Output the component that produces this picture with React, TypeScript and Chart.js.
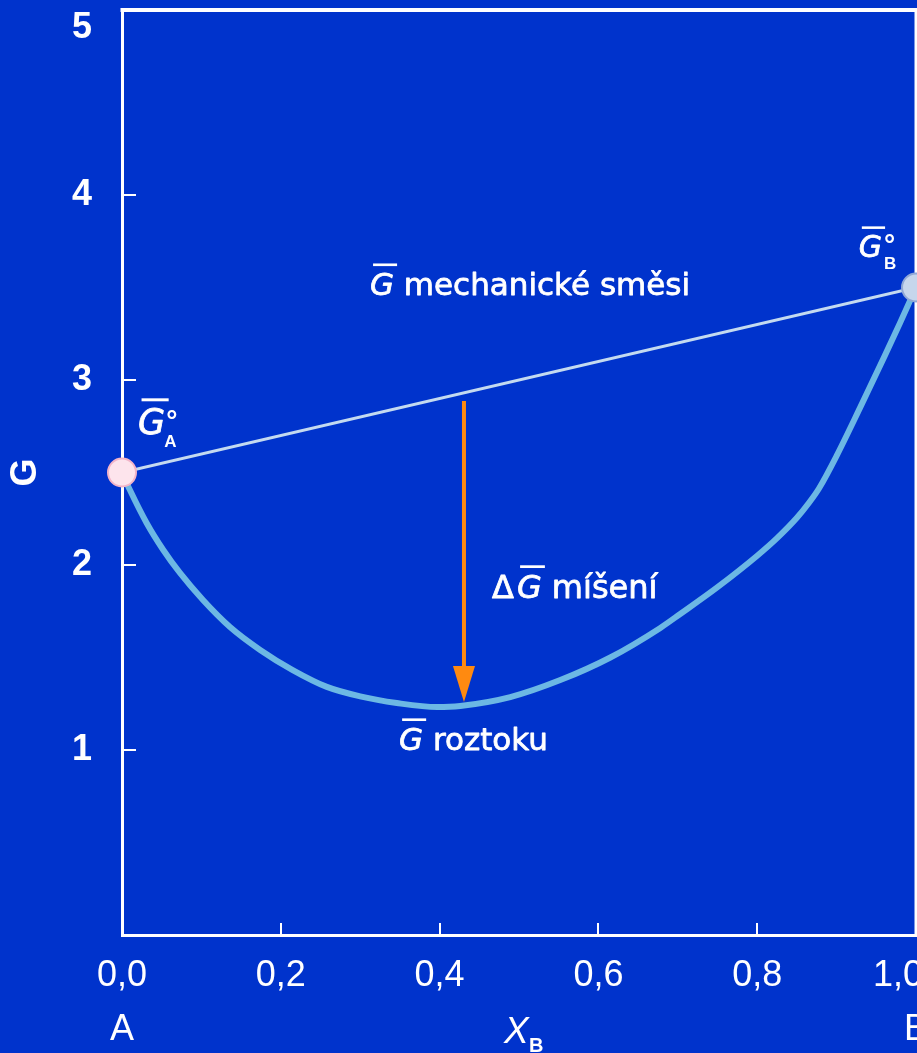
import React, { useEffect, useRef } from 'react';
import { Chart, registerables } from 'chart.js';

Chart.register(...registerables);

// ---------- data ----------
const xTickValues = [0, 0.2, 0.4, 0.6, 0.8, 1.0];
const xTickLabels = ['0,0', '0,2', '0,4', '0,6', '0,8', '1,0'];
const xEndLabels = ['A', '', '', '', '', 'B'];
const yTickValues = [0, 1, 2, 3, 4, 5];
const yTickLabels = ['', '1', '2', '3', '4', '5'];

// G of mechanical mixture (straight line between pure components)
const mixX = [0, 1];
const mixG = [2.5, 3.5];

// G of solution (curve)
const solX = [0, 0.01, 0.031, 0.052, 0.073, 0.102, 0.136, 0.174, 0.215, 0.258, 0.3, 0.346, 0.397, 0.426, 0.489, 0.552, 0.615, 0.678, 0.703, 0.75, 0.8, 0.825, 0.85, 0.865, 0.878, 0.9, 0.929, 0.96, 0.98, 1.0];
const solG = [2.5, 2.405, 2.227, 2.081, 1.957, 1.811, 1.665, 1.541, 1.432, 1.341, 1.29, 1.254, 1.232, 1.238, 1.286, 1.378, 1.5, 1.66, 1.735, 1.88, 2.05, 2.145, 2.255, 2.335, 2.415, 2.59, 2.845, 3.125, 3.31, 3.5];

// pure components (end points)
const pureX = [0, 1];
const pureG = [2.5, 3.5];

// mixing arrow (ΔG)
const arrowX = [0.4307, 0.4307];
const arrowG = [2.886, 1.3];
const arrowTipG = 1.259;

// ---------- styles ----------
const BG = '#0033cc';
const CANVAS_W = 1000;
const CANVAS_H = 1053;
const TICK_FONT = '"Liberation Sans", Arial, sans-serif';
const ANN_FONT = '"DejaVu Sans", sans-serif';

// annotation anchors (data coordinates)
const mixLabelAt = { x: 0.3123, y: 3.459 };
const dGLabelAt = { x: 0.466, y: 1.822 };
const solLabelAt = { x: 0.3489, y: 1.0 };
const gaLabelAt = { x: 0.0202, y: 2.708 };
const gbLabelAt = { x: 0.928, y: 3.665 };

function text(ctx: CanvasRenderingContext2D, s: string, x: number, y: number) {
  ctx.fillText(s, x, y);
  ctx.strokeText(s, x, y);
}

function barG(ctx: CanvasRenderingContext2D, x: number, base: number, size: number) {
  ctx.font = `italic ${size}px ${ANN_FONT}`;
  text(ctx, 'G', x, base);
  const w = ctx.measureText('G').width;
  ctx.fillRect(x + size * 0.1, base - size * 1.02, w, Math.max(2.5, size * 0.085));
  return w;
}

const bgPlugin = {
  id: 'bg',
  beforeDraw(chart: any) {
    const { ctx, width, height } = chart;
    ctx.save();
    ctx.fillStyle = BG;
    ctx.fillRect(0, 0, width, height);
    ctx.restore();
  },
};

const framePlugin = {
  id: 'frame',
  beforeDatasetsDraw(chart: any) {
    const { ctx, chartArea: a, scales } = chart;
    const xs = scales.x;
    const ys = scales.y;
    ctx.save();
    ctx.strokeStyle = '#ffffff';
    ctx.lineWidth = 4;
    ctx.beginPath();
    ctx.moveTo(a.left - 1.5, a.top);
    ctx.lineTo(a.right + 2, a.top);
    ctx.stroke();
    ctx.lineWidth = 3;
    ctx.beginPath();
    ctx.moveTo(a.right, a.top);
    ctx.lineTo(a.right, a.bottom);
    ctx.stroke();
    ctx.lineWidth = 2;
    ctx.beginPath();
    xTickValues.slice(1, -1).forEach((v) => {
      const px = Math.round(xs.getPixelForValue(v));
      ctx.moveTo(px, a.bottom);
      ctx.lineTo(px, a.bottom - 12);
    });
    yTickValues.slice(1, -1).forEach((v) => {
      const py = Math.round(ys.getPixelForValue(v));
      ctx.moveTo(a.left, py);
      ctx.lineTo(a.left + 14, py);
    });
    ctx.stroke();
    ctx.restore();
  },
};

const annotPlugin = {
  id: 'annot',
  afterDatasetsDraw(chart: any) {
    const { ctx, scales } = chart;
    const xs = scales.x;
    const ys = scales.y;
    const P = (p: { x: number; y: number }) => [xs.getPixelForValue(p.x), ys.getPixelForValue(p.y)];
    ctx.save();

    // arrow head
    const ax = xs.getPixelForValue(arrowX[0]);
    const tip = ys.getPixelForValue(arrowTipG);
    ctx.fillStyle = '#ff8a10';
    ctx.beginPath();
    ctx.moveTo(ax - 11, tip - 36);
    ctx.lineTo(ax + 11, tip - 36);
    ctx.lineTo(ax, tip);
    ctx.closePath();
    ctx.fill();

    ctx.fillStyle = '#ffffff';
    ctx.strokeStyle = '#ffffff';
    ctx.lineWidth = 0.8;
    ctx.lineJoin = 'round';
    ctx.textAlign = 'left';
    ctx.textBaseline = 'alphabetic';

    // G mechanické směsi
    {
      const [x, b] = P(mixLabelAt);
      const size = 31;
      const w = barG(ctx, x, b, size);
      ctx.font = `${size}px ${ANN_FONT}`;
      text(ctx, ' mechanické směsi', x + w, b);
    }
    // ΔG míšení
    {
      const [x, b] = P(dGLabelAt);
      const size = 32;
      ctx.font = `${size}px ${ANN_FONT}`;
      text(ctx, 'Δ', x, b);
      const dw = ctx.measureText('Δ').width;
      const w = barG(ctx, x + dw + 3, b, size);
      ctx.font = `${size}px ${ANN_FONT}`;
      text(ctx, ' míšení', x + dw + 3 + w, b);
    }
    // G roztoku
    {
      const [x, b] = P(solLabelAt);
      const size = 31;
      const w = barG(ctx, x, b, size);
      ctx.font = `${size}px ${ANN_FONT}`;
      text(ctx, ' roztoku', x + w, b);
    }
    // G°A
    {
      const [x, b] = P(gaLabelAt);
      const w = barG(ctx, x, b, 35);
      ctx.font = `bold 28px ${TICK_FONT}`;
      ctx.fillText('°', x + w + 1, b - 4);
      ctx.font = `bold 17px ${TICK_FONT}`;
      ctx.fillText('A', x + w - 1, b + 13);
    }
    // G°B
    {
      const [x, b] = P(gbLabelAt);
      const w = barG(ctx, x, b, 30);
      ctx.font = `bold 28px ${TICK_FONT}`;
      ctx.fillText('°', x + w + 2, b - 3);
      ctx.font = `bold 17px ${TICK_FONT}`;
      ctx.fillText('B', x + w + 2, b + 12);
    }
    // X_B axis title
    {
      const cx = (xs.left + xs.right) / 2;
      ctx.font = `italic 37px ${TICK_FONT}`;
      ctx.fillText('X', cx - 15, xs.bottom - 10);
      ctx.font = `bold 20px ${TICK_FONT}`;
      ctx.fillText('B', cx + 10, xs.bottom - 1);
    }
    ctx.restore();
  },
};

export default function App() {
  const ref = useRef<HTMLCanvasElement>(null);

  useEffect(() => {
    document.body.style.margin = '0';
    document.body.style.background = BG;
    document.body.style.overflow = 'hidden';
    const canvas = ref.current!;
    const chart = new Chart(canvas, {
      type: 'scatter',
      data: {
        datasets: [
          {
            label: 'pure',
            data: pureX.map((x, i) => ({ x, y: pureG[i] })),
            showLine: false,
            pointRadius: 14,
            pointBorderWidth: 2,
            pointBackgroundColor: ['#fde4ec', '#c6d6ec'],
            pointBorderColor: ['#f2b4c8', '#90a8d6'],
            clip: false,
            order: 0,
          } as any,
          {
            label: 'arrow',
            data: arrowX.map((x, i) => ({ x, y: arrowG[i] })),
            showLine: true,
            borderColor: '#ff8a10',
            borderWidth: 4,
            pointRadius: 0,
            order: 1,
          } as any,
          {
            label: 'roztok',
            data: solX.map((x, i) => ({ x, y: solG[i] })),
            showLine: true,
            borderColor: '#6cb8e4',
            borderWidth: 6,
            pointRadius: 0,
            cubicInterpolationMode: 'monotone',
            clip: false,
            order: 2,
          } as any,
          {
            label: 'smes',
            data: mixX.map((x, i) => ({ x, y: mixG[i] })),
            showLine: true,
            borderColor: '#c4daf0',
            borderWidth: 3,
            pointRadius: 0,
            order: 3,
          } as any,
        ],
      },
      options: {
        animation: false,
        responsive: false,
        devicePixelRatio: 1,
        layout: { autoPadding: false, padding: { top: 10, right: CANVAS_W - 916, left: 0, bottom: 0 } },
        plugins: { legend: { display: false }, tooltip: { enabled: false } },
        scales: {
          x: {
            type: 'linear',
            min: 0,
            max: 1,
            grid: { display: false, drawTicks: false },
            border: { display: true, color: '#ffffff', width: 3 },
            afterBuildTicks: (s: any) => {
              s.ticks = xTickValues.map((v) => ({ value: v }));
            },
            afterFit: (s: any) => {
              s.height = 118;
              s.paddingLeft = 0;
              s.paddingRight = 0;
            },
            ticks: {
              autoSkip: false,
              maxRotation: 0,
              minRotation: 0,
              padding: 14,
              color: '#ffffff',
              font: { family: TICK_FONT, size: 36, lineHeight: 1.5 },
              callback: (_v: any, i: number) => [
                i === xTickLabels.length - 1 ? xTickLabels[i] + '\u2003' : xTickLabels[i],
                xEndLabels[i],
              ],
            },
          },
          y: {
            type: 'linear',
            min: 0,
            max: 5,
            grid: { display: false, drawTicks: false },
            border: { display: true, color: '#ffffff', width: 3 },
            afterBuildTicks: (s: any) => {
              s.ticks = yTickValues.map((v) => ({ value: v }));
            },
            afterFit: (s: any) => {
              s.width = 122;
              s.paddingTop = 0;
              s.paddingBottom = 0;
            },
            title: {
              display: true,
              text: 'G',
              color: '#ffffff',
              font: { family: TICK_FONT, size: 36, weight: 'bold', lineHeight: 1.2 },
              padding: { top: 4, bottom: 0 },
            },
            ticks: {
              autoSkip: false,
              padding: 30,
              color: '#ffffff',
              font: { family: TICK_FONT, size: 36, weight: 'bold', lineHeight: 1.0 },
              callback: (_v: any, i: number) =>
                i === yTickLabels.length - 1 ? ['', yTickLabels[i]] : yTickLabels[i],
            },
          },
        },
      } as any,
      plugins: [bgPlugin, framePlugin, annotPlugin],
    });
    return () => chart.destroy();
  }, []);

  return (
    <div
      style={{
        position: 'fixed',
        left: 0,
        top: 0,
        width: 917,
        height: 1053,
        overflow: 'hidden',
        background: BG,
      }}
    >
      <canvas
        ref={ref}
        width={CANVAS_W}
        height={CANVAS_H}
        style={{ display: 'block', width: CANVAS_W, height: CANVAS_H }}
      />
    </div>
  );
}
